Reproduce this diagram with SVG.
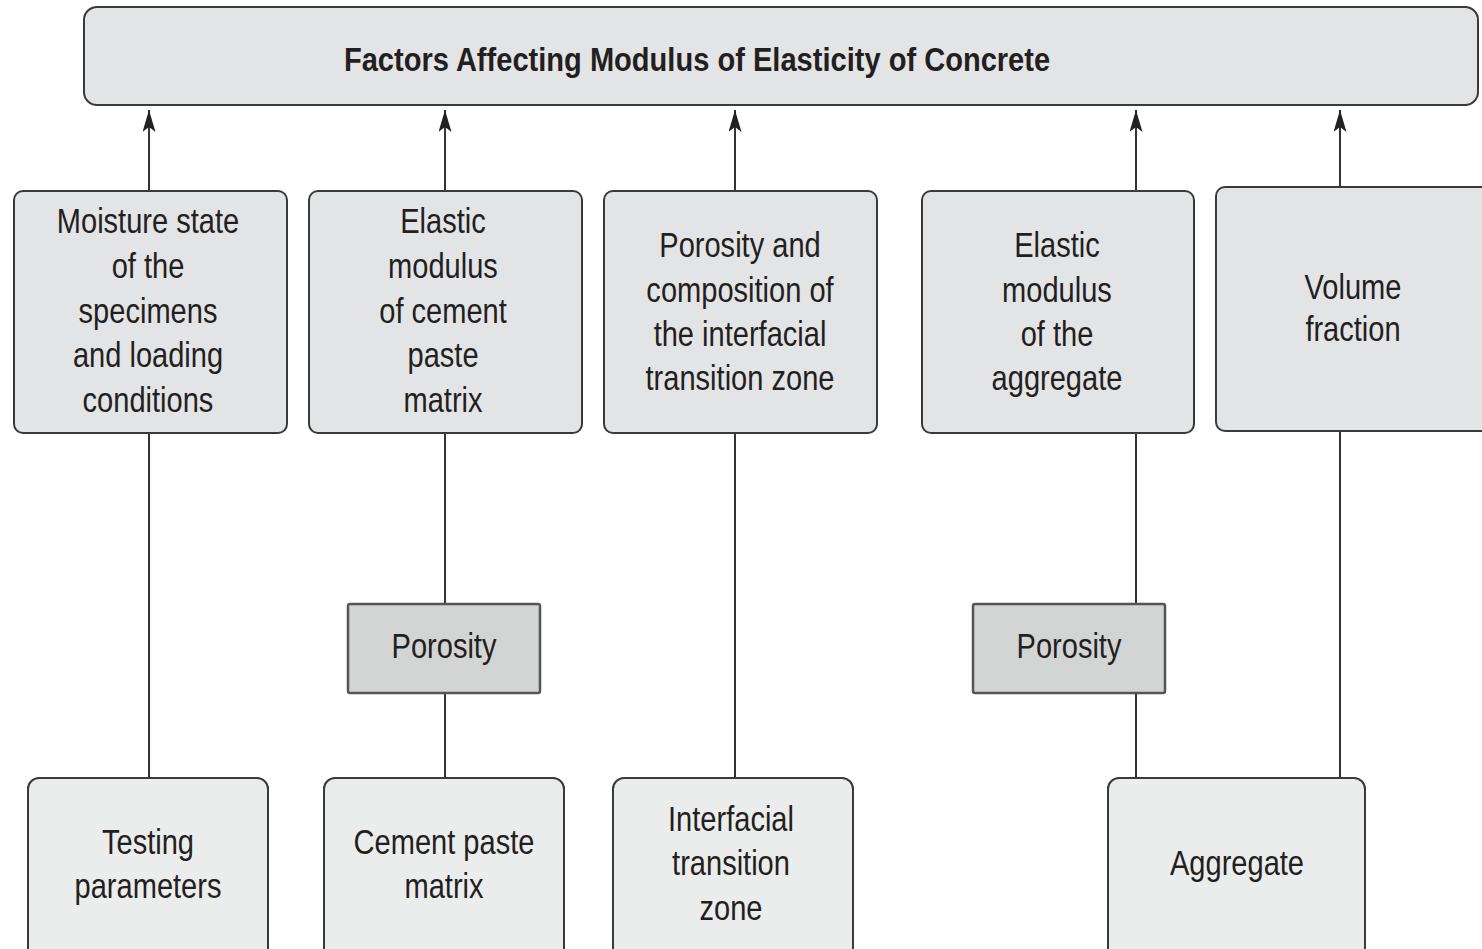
<svg xmlns="http://www.w3.org/2000/svg" width="1482" height="949" viewBox="0 0 1482 949">
<defs>
<marker id="arr" viewBox="0 0 22 13" refX="22" refY="6.5" markerWidth="22" markerHeight="13" markerUnits="userSpaceOnUse" orient="auto">
<path d="M22,6.5 L0,0 L5,6.5 L0,13 Z" fill="#222"/>
</marker>
<style>
.box{fill:#e3e4e6;stroke:#3a3a3a;stroke-width:2}
.bot{fill:#ebecec;stroke:#3a3a3a;stroke-width:2}
.por{fill:#d3d4d4;stroke:#555;stroke-width:2.5}
.t{font-family:"Liberation Sans",Arial,sans-serif;font-size:35px;fill:#231f20;text-anchor:middle}
.title{font-family:"Liberation Sans",Arial,sans-serif;font-size:34px;font-weight:bold;fill:#231f20;text-anchor:middle}
.c{stroke:#333;stroke-width:2;fill:none}
</style>
</defs>
<rect width="1482" height="949" fill="#fff"/>
<g id="connectors">
<line class="c" x1="149" y1="191" x2="149" y2="110" marker-end="url(#arr)"/>
<line class="c" x1="445" y1="191" x2="445" y2="110" marker-end="url(#arr)"/>
<line class="c" x1="735" y1="191" x2="735" y2="110" marker-end="url(#arr)"/>
<line class="c" x1="1136" y1="191" x2="1136" y2="110" marker-end="url(#arr)"/>
<line class="c" x1="1340" y1="187" x2="1340" y2="110" marker-end="url(#arr)"/>
<line class="c" x1="149" y1="433" x2="149" y2="778"/>
<line class="c" x1="445" y1="433" x2="445" y2="604"/>
<line class="c" x1="445" y1="693" x2="445" y2="778"/>
<line class="c" x1="735" y1="433" x2="735" y2="778"/>
<line class="c" x1="1136" y1="433" x2="1136" y2="604"/>
<line class="c" x1="1136" y1="693" x2="1136" y2="778"/>
<line class="c" x1="1340" y1="431" x2="1340" y2="778"/>
</g>
<g id="title">
<rect class="box" x="84" y="7" width="1394" height="98" rx="13"/>
<text class="title" transform="matrix(0.855 0 0 1 697 0)" x="0" y="71">Factors Affecting Modulus of Elasticity of Concrete</text>
</g>
<g id="moisture">
<rect class="box" x="14" y="191" width="273" height="242" rx="9"/>
<g transform="matrix(0.83 0 0 1 148 0)">
<text class="t" x="0" y="233">Moisture state</text>
<text class="t" x="0" y="278">of the</text>
<text class="t" x="0" y="323">specimens</text>
<text class="t" x="0" y="367">and loading</text>
<text class="t" x="0" y="412">conditions</text>
</g>
</g>
<g id="elastic-cement">
<rect class="box" x="309" y="191" width="273" height="242" rx="9"/>
<g transform="matrix(0.83 0 0 1 443 0)">
<text class="t" x="0" y="233">Elastic</text>
<text class="t" x="0" y="278">modulus</text>
<text class="t" x="0" y="323">of cement</text>
<text class="t" x="0" y="367">paste</text>
<text class="t" x="0" y="412">matrix</text>
</g>
</g>
<g id="porosity-itz">
<rect class="box" x="604" y="191" width="273" height="242" rx="9"/>
<g transform="matrix(0.83 0 0 1 740 0)">
<text class="t" x="0" y="257">Porosity and</text>
<text class="t" x="0" y="302">composition of</text>
<text class="t" x="0" y="346">the interfacial</text>
<text class="t" x="0" y="390">transition zone</text>
</g>
</g>
<g id="elastic-aggregate">
<rect class="box" x="922" y="191" width="272" height="242" rx="9"/>
<g transform="matrix(0.83 0 0 1 1057 0)">
<text class="t" x="0" y="257">Elastic</text>
<text class="t" x="0" y="302">modulus</text>
<text class="t" x="0" y="346">of the</text>
<text class="t" x="0" y="390">aggregate</text>
</g>
</g>
<g id="volume-fraction">
<rect class="box" x="1216" y="187" width="280" height="244" rx="9"/>
<g transform="matrix(0.83 0 0 1 1353 0)">
<text class="t" x="0" y="299">Volume</text>
<text class="t" x="0" y="341">fraction</text>
</g>
</g>
<g id="porosity-paste">
<rect class="por" x="348" y="604" width="192" height="89" rx="2"/>
<text class="t" transform="matrix(0.83 0 0 1 444 0)" x="0" y="658">Porosity</text>
</g>
<g id="porosity-aggregate">
<rect class="por" x="973" y="604" width="192" height="89" rx="2"/>
<text class="t" transform="matrix(0.83 0 0 1 1069 0)" x="0" y="658">Porosity</text>
</g>
<g id="testing">
<rect class="bot" x="28" y="778" width="240" height="185" rx="11"/>
<g transform="matrix(0.83 0 0 1 148 0)">
<text class="t" x="0" y="854">Testing</text>
<text class="t" x="0" y="898">parameters</text>
</g>
</g>
<g id="cement-paste">
<rect class="bot" x="324" y="778" width="240" height="185" rx="11"/>
<g transform="matrix(0.83 0 0 1 444 0)">
<text class="t" x="0" y="854">Cement paste</text>
<text class="t" x="0" y="898">matrix</text>
</g>
</g>
<g id="itz">
<rect class="bot" x="613" y="778" width="240" height="185" rx="11"/>
<g transform="matrix(0.83 0 0 1 731 0)">
<text class="t" x="0" y="831">Interfacial</text>
<text class="t" x="0" y="875">transition</text>
<text class="t" x="0" y="920">zone</text>
</g>
</g>
<g id="aggregate">
<rect class="bot" x="1108" y="778" width="257" height="185" rx="11"/>
<text class="t" transform="matrix(0.83 0 0 1 1237 0)" x="0" y="875">Aggregate</text>
</g>
</svg>
